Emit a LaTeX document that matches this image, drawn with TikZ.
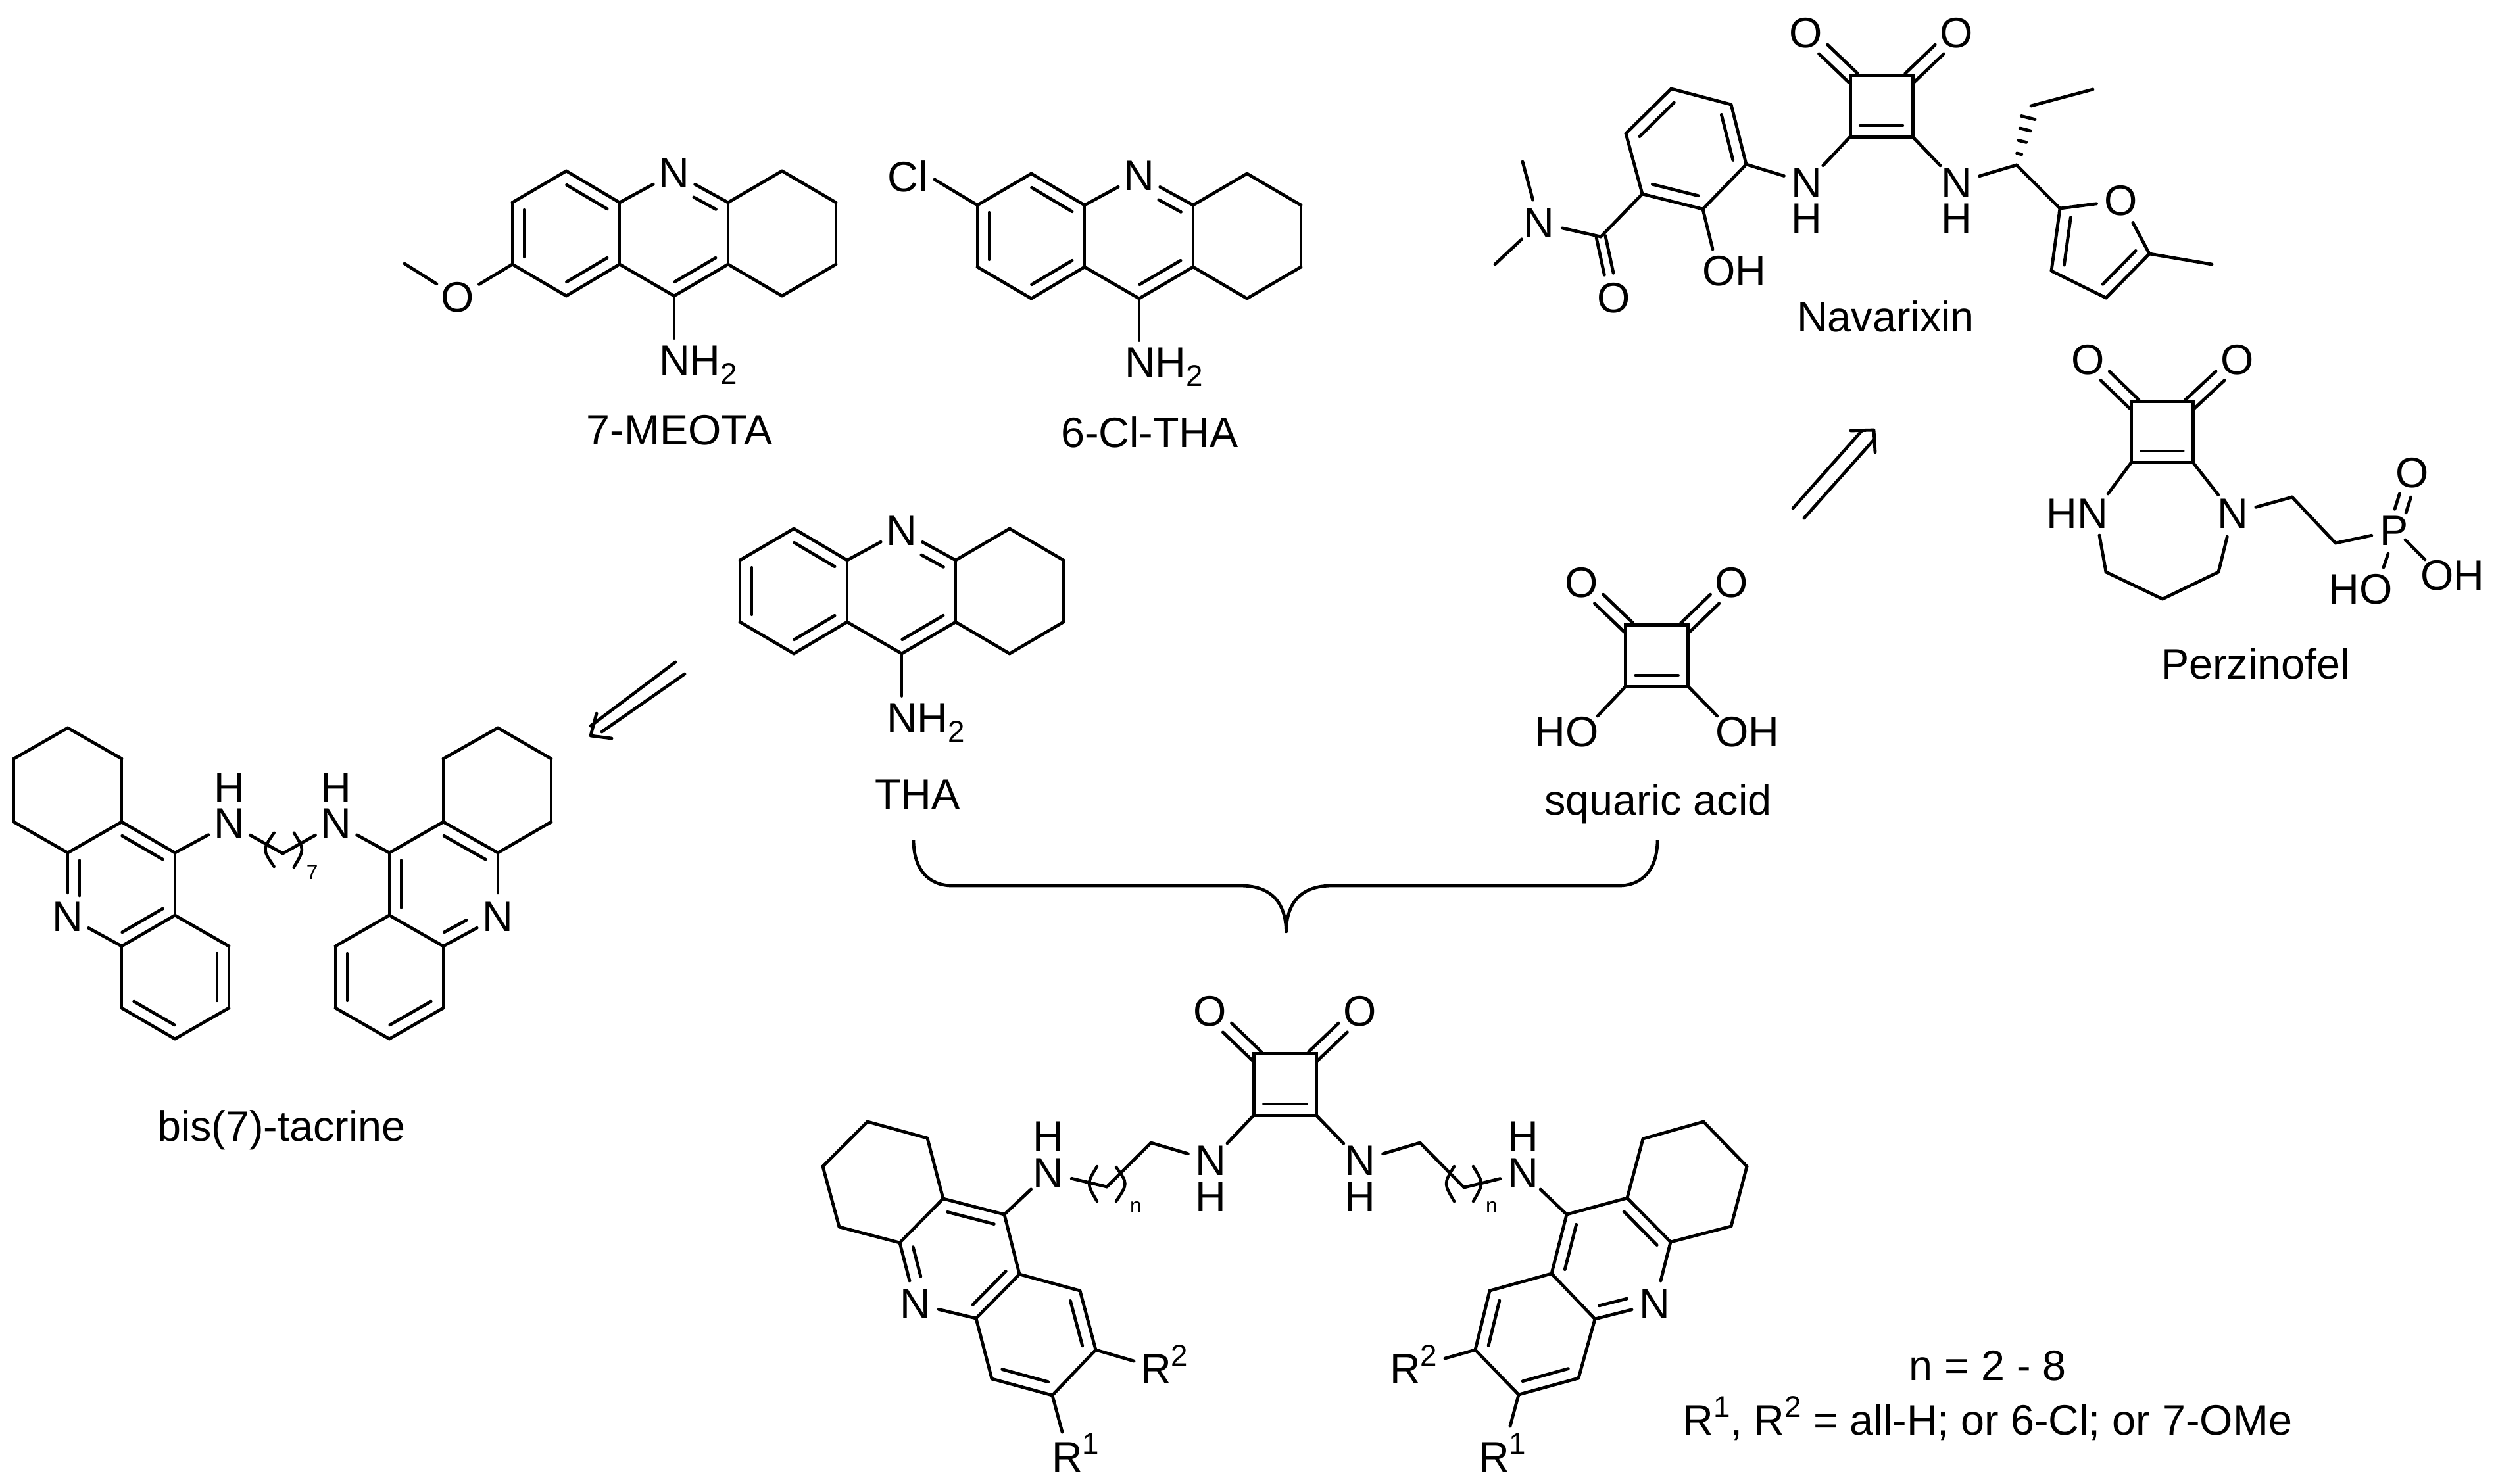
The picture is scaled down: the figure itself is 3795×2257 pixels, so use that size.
\documentclass[tikz,border=0pt]{standalone}
\usepackage{fontspec}
\setmainfont{Liberation Sans}
\usetikzlibrary{calc}
\newcommand{\subt}[1]{\raisebox{-.14cm}{\fontsize{13pt}{13pt}\selectfont #1}}
\newcommand{\supt}[1]{\raisebox{.27cm}{\fontsize{13pt}{13pt}\selectfont #1}}
\tikzset{
  bond/.style={line width=.048cm,line cap=round,line join=round,black},
  fine/.style={line width=.045cm,line cap=round,black},
  sq/.style={line width=.05cm,line cap=butt,line join=miter,black},
  lab/.style={inner sep=0pt,outer sep=0pt,font=\fontsize{18.4pt}{20pt}\selectfont,text=black},
  atom/.style={lab,circle,outer sep=.04cm},
  tiny/.style={lab,font=\fontsize{9pt}{10pt}\selectfont},
}
% simple bond
\newcommand{\bd}[2]{\draw[bond] (#1) -- (#2);}
% double bond a->b running clockwise round its ring; inner line shortened by fractions
\newcommand{\ddf}[4]{\draw[bond] (#1) -- (#2);
  \draw[bond] ($(#1)!#3!(#2)!.18cm!-90:(#2)$) -- ($(#2)!#4!(#1)!.18cm!90:(#1)$);}
\newcommand{\dd}[2]{\ddf{#1}{#2}{.12}{.12}}
% symmetric double bond: a, b, half separation, cut at a, cut at b
\newcommand{\cdb}[5]{\draw[bond] ($(#1)!#4!(#2)!#3!90:(#2)$) -- ($(#2)!#5!(#1)!#3!-90:(#1)$);
  \draw[bond] ($(#1)!#4!(#2)!#3!-90:(#2)$) -- ($(#2)!#5!(#1)!#3!90:(#1)$);}
% four-membered ring: prefix, left, right, top, bottom
\newcommand{\sqring}[5]{%
  \coordinate (#1tl) at (#2,#4); \coordinate (#1tr) at (#3,#4);
  \coordinate (#1br) at (#3,#5); \coordinate (#1bl) at (#2,#5);
  \draw[sq] (#1tl) -- (#1tr) -- (#1br) -- (#1bl) -- cycle;
  \draw[bond] ($(#1br)!.16!(#1bl)!.17cm!-90:(#1bl)$) -- ($(#1bl)!.16!(#1br)!.17cm!90:(#1br)$);}
% tetrahydroacridine skeleton with upright layout
\newcommand{\tacr}[3]{%
  \begin{scope}[shift={(#2,#3)}]
    \foreach \n/\xx/\yy in {a/861/260,b/942/308,c/942/402,d/861/450,e/779/402,f/779/308,g/1107/308,h/1107/402,i/1025/450,j/1189/260,k/1271/308,l/1271/402,m/1189/450}
      {\coordinate (#1\n) at (\xx,\yy);}
    \node[atom] (#1N) at (1025,263) {N};
  \end{scope}
  \dd{#1a}{#1b}\bd{#1b}{#1c}\dd{#1c}{#1d}\bd{#1d}{#1e}\dd{#1e}{#1f}\bd{#1f}{#1a}
  \bd{#1b}{#1N}\ddf{#1N}{#1g}{.47}{.12}\bd{#1g}{#1h}\dd{#1h}{#1i}\bd{#1i}{#1c}
  \bd{#1g}{#1j}\bd{#1j}{#1k}\bd{#1k}{#1l}\bd{#1l}{#1m}\bd{#1m}{#1h}}
\begin{document}
\begin{tikzpicture}[x=.01cm,y=-.01cm]
\path[fill=white,use as bounding box] (0,0) rectangle (3795,2257);

% ---------- 7-MEOTA
\tacr{m}{0}{0}
\node[atom] (mO) at (696,452) {O};
\coordinate (mMe) at (615,401);
\bd{me}{mO}\bd{mO}{mMe}
\node[lab,anchor=base west] (mNH) at (1002,570) {NH\subt{2}};
\draw[bond,shorten >=.11cm] (mi) -- (mi |- mNH.north);
\node[lab,anchor=base] (mName) at (1033,676) {7-MEOTA};

% ---------- 6-Cl-THA
\tacr{c}{707}{4}
\node[lab,anchor=base] (cCl) at (1380,291) {Cl};
\coordinate (cClb) at (1421,273);
\bd{cf}{cClb}
\node[lab,anchor=base west] (cNH) at (1710,573) {NH\subt{2}};
\draw[bond,shorten >=.11cm] (ci) -- (ci |- cNH.north);
\node[lab,anchor=base] (cName) at (1748,680) {6-Cl-THA};

% ---------- THA
\tacr{t}{346}{544}
\node[lab,anchor=base west] (tNH) at (1348,1114) {NH\subt{2}};
\draw[bond,shorten >=.11cm] (ti) -- (ti |- tNH.north);
\node[lab,anchor=base] (tName) at (1395,1230) {THA};

% ---------- arrow to bis(7)-tacrine
\foreach \n/\xx/\yy in {p1/1027/1007,p2/898/1104,p3/1041/1025,p4/915/1113,p5/907/1085,p6/898/1119,p7/930/1123}
  {\coordinate (\n) at (\xx,\yy);}
\bd{p1}{p2}\bd{p3}{p4}
\draw[bond] (p5) -- (p6) -- (p7);

% ---------- bis(7)-tacrine, left half
\foreach \n/\xx/\yy in {la/103/1107,lb/185/1154,lc/185/1250,ld/103/1297,le/21/1250,lf/21/1154,lg/266/1297,lh/266/1392,li/185/1439,lj/348/1439,lk/348/1533,ll/266/1580,lm/185/1533}
  {\coordinate (\n) at (\xx,\yy);}
\node[atom] (lN) at (103,1394) {N};
\bd{la}{lb}\bd{lb}{lc}\bd{lc}{ld}\bd{ld}{le}\bd{le}{lf}\bd{lf}{la}
\dd{lc}{lg}\bd{lg}{lh}\dd{lh}{li}\bd{li}{lN}\ddf{lN}{ld}{.33}{.12}
\dd{lj}{lk}\bd{lk}{ll}\dd{ll}{lm}\bd{lm}{li}\bd{lh}{lj}
% right half
\foreach \n/\xx/\yy in {ra/757/1107,rb/838/1154,rc/838/1250,rd/757/1297,re/674/1250,rf/674/1154,rg/592/1297,rh/592/1392,ri/674/1439,rj/510/1439,rk/510/1533,rl/592/1580,rm/674/1533}
  {\coordinate (\n) at (\xx,\yy);}
\node[atom] (rN) at (757,1394) {N};
\bd{ra}{rb}\bd{rb}{rc}\bd{rc}{rd}\bd{re}{rf}\bd{rf}{ra}
\dd{re}{rd}\bd{rg}{re}\dd{rh}{rg}\bd{rd}{rN}\ddf{rN}{ri}{.47}{.12}\bd{ri}{rh}
\bd{rh}{rj}\dd{rk}{rj}\bd{rk}{rl}\dd{rm}{rl}\bd{rm}{ri}
% linker
\node[atom] (bN1) at (348.7,1252.5) {N};
\node[lab] (bH1) at (348.7,1198.5) {H};
\node[atom] (bN2) at (511,1252.5) {N};
\node[lab] (bH2) at (511,1198.5) {H};
\coordinate (bm) at (430,1298);
\bd{lg}{bN1}\bd{bN1}{bm}\bd{bm}{bN2}\bd{bN2}{rg}
\coordinate (bp1) at (416.7,1266.7); \coordinate (bp2) at (399,1292); \coordinate (bp3) at (416.7,1318);
\coordinate (bq1) at (447,1266.7); \coordinate (bq2) at (463,1292); \coordinate (bq3) at (446.7,1319);
\draw[fine] (bp1) .. controls (bp2) .. (bp3);
\draw[fine] (bq1) .. controls (bq2) .. (bq3);
\node[tiny,anchor=base] (b7) at (474.7,1337) {7};
\node[lab,anchor=base] (bName) at (428,1735) {bis(7)-tacrine};

% ---------- squaric acid
\sqring{s}{2471.7}{2566.7}{950}{1044}
\node[atom] (sO1) at (2405,886) {O};
\node[atom] (sO2) at (2633,886) {O};
\cdb{stl}{sO1}{.095cm}{-.07}{.39}
\cdb{str}{sO2}{.095cm}{-.07}{.39}
\node[lab,anchor=base east] (sHO) at (2431,1135) {HO};
\node[lab,anchor=base west] (sOH) at (2608,1135) {OH};
\coordinate (sb1) at (2429,1089); \coordinate (sb2) at (2611,1089);
\bd{sbl}{sb1}\bd{sbr}{sb2}
\node[lab,anchor=base] (sName) at (2521,1239) {squaric acid};

% ---------- brace
\coordinate (br1) at (1389,1278); \coordinate (br2) at (1448,1347);
\coordinate (br3) at (1886,1347); \coordinate (br4) at (1955.5,1417);
\coordinate (br5) at (2025,1347); \coordinate (br6) at (2461,1347);
\coordinate (br7) at (2520,1278);
\draw[bond,line cap=butt] (br1) .. controls (1389,1320) and (1410,1347) .. (br2) -- (br3)
  .. controls (1930,1347) and (1955,1370) .. (br4)
  .. controls (1956,1370) and (1981,1347) .. (br5) -- (br6)
  .. controls (2499,1347) and (2520,1320) .. (br7);

% ---------- arrow to Navarixin
\foreach \n/\xx/\yy in {q1/2726/773,q2/2830/656,q3/2743/788,q4/2848/670,q5/2814/655,q6/2849/654,q7/2851/688}
  {\coordinate (\n) at (\xx,\yy);}
\bd{q1}{q2}\bd{q3}{q4}
\draw[bond] (q5) -- (q6) -- (q7);

% ---------- Navarixin
\sqring{n}{2813}{2908}{114}{208}
\node[atom] (nO1) at (2746,50) {O};
\node[atom] (nO2) at (2975,50) {O};
\cdb{ntl}{nO1}{.095cm}{-.07}{.39}
\cdb{ntr}{nO2}{.095cm}{-.07}{.39}
\node[atom] (nN1) at (2747,278) {N};
\node[lab] (nH1) at (2747,332.7) {H};
\node[atom] (nN2) at (2975,278) {N};
\node[lab] (nH2) at (2975,332.7) {H};
\bd{nbl}{nN1}\bd{nbr}{nN2}
\foreach \n/\xx/\yy in {a1/2541/135,a2/2632/159,a3/2655/250,a4/2589/318,a5/2497/295,a6/2472/203,ac/2434/360,am1/2315/246,am2/2273/402,ast/3066/251,ae/3088/161,ae2/3182/136,f1/3132/317,f3/3268/386,f4/3202/453,f5/3119/412,fm/3363/402}
  {\coordinate (\n) at (\xx,\yy);}
\dd{a6}{a1}\bd{a1}{a2}\dd{a2}{a3}\bd{a3}{a4}\dd{a4}{a5}\bd{a5}{a6}
\bd{a3}{nN1}\bd{a5}{ac}
\node[atom] (aO) at (2454,453) {O};
\cdb{ac}{aO}{.07cm}{0}{.39}
\node[atom] (aN) at (2340,339) {N};
\bd{ac}{aN}\bd{aN}{am1}\bd{aN}{am2}
\node[lab,anchor=base west] (aOH) at (2588,434) {OH};
\coordinate (aOb) at (2604,379);
\bd{a4}{aOb}
\bd{nN2}{ast}\bd{ast}{f1}
\foreach \t/\w in {.19/.037cm,.4/.06cm,.6/.083cm,.8/.107cm}
  {\draw[bond] ($(ast)!\t!(ae)!\w!90:(ae)$) -- ($(ast)!\t!(ae)!\w!-90:(ae)$);}
\bd{ae}{ae2}
\node[atom] (fO) at (3225,305) {O};
\bd{f1}{fO}\bd{fO}{f3}\dd{f3}{f4}\bd{f4}{f5}\dd{f5}{f1}\bd{f3}{fm}
\node[lab,anchor=base] (nName) at (2867,504) {Navarixin};

% ---------- Perzinofel
\sqring{z}{3240.7}{3334}{610.5}{703}
\node[atom] (zO1) at (3175,547) {O};
\node[atom] (zO2) at (3402,547) {O};
\cdb{ztl}{zO1}{.095cm}{-.07}{.39}
\cdb{ztr}{zO2}{.095cm}{-.07}{.39}
\node[lab,anchor=base east] (zHN) at (3205,803) {HN};
\node[atom] (zN) at (3395,781) {N};
\foreach \n/\xx/\yy in {zb1/3205/751,zb2/3192/814,zc1/3202/870,zc2/3288/911,zc3/3373/870,zc4/3485/756,zc5/3551/826,zb3/3687/851,zb4/3624/863,zb5/3657/821,zb6/3631/842}
  {\coordinate (\n) at (\xx,\yy);}
\bd{zbl}{zb1}\bd{zbr}{zN}
\bd{zb2}{zc1}\bd{zc1}{zc2}\bd{zc2}{zc3}\bd{zc3}{zN}
\bd{zN}{zc4}\bd{zc4}{zc5}
\node[atom] (zP) at (3640,807) {P};
\bd{zc5}{zP}
\node[atom] (zOd) at (3668,719) {O};
\cdb{zP}{zOd}{.09cm}{.34}{.39}
\bd{zb5}{zb3}\bd{zb6}{zb4}
\node[lab,anchor=base west] (zOH) at (3680,897) {OH};
\node[lab,anchor=base east] (zHO) at (3638,918) {HO};
\node[lab,anchor=base] (zName) at (3429,1032) {Perzinofel};

% ---------- bottom compound, squarate core
\sqring{u}{1906.5}{2001}{1602}{1696}
\node[atom] (uO1) at (1840,1538) {O};
\node[atom] (uO2) at (2068,1538) {O};
\cdb{utl}{uO1}{.095cm}{-.07}{.39}
\cdb{utr}{uO2}{.095cm}{-.07}{.39}
\node[atom] (uN1) at (1841,1765) {N};
\node[lab] (uH1) at (1841,1820) {H};
\node[atom] (uN2) at (2068,1765) {N};
\node[lab] (uH2) at (2068,1820) {H};
\bd{ubl}{uN1}\bd{ubr}{uN2}
% left linker
\coordinate (v1) at (1750,1738); \coordinate (v2) at (1683,1805);
\node[atom] (vN) at (1594,1784) {N};
\node[lab] (vH) at (1594,1728) {H};
\bd{uN1}{v1}\bd{v1}{v2}\bd{v2}{vN}
\coordinate (vp1) at (1668,1774); \coordinate (vp2) at (1652,1800); \coordinate (vp3) at (1668,1827);
\coordinate (vq1) at (1697,1775); \coordinate (vq2) at (1715,1800); \coordinate (vq3) at (1697,1827);
\draw[fine] (vp1) .. controls (vp2) .. (vp3);
\draw[fine] (vq1) .. controls (vq2) .. (vq3);
\node[tiny,anchor=base] (vn) at (1727,1844) {n};
% left tricycle
\foreach \n/\xx/\yy in {v3/1319/1706,v4/1410/1731,v5/1434/1823,v6/1368/1890,v7/1276/1866,v8/1251/1774,v9/1527/1847,v10/1550/1938,v11/1484/2005,v12/1642/1963,v13/1666/2053,v14/1600/2122,v15/1508/2097,vb1/1724/2070,vb2/1615/2178}
  {\coordinate (\n) at (\xx,\yy);}
\node[atom] (vNr) at (1392,1983) {N};
\bd{v3}{v4}\bd{v4}{v5}\bd{v5}{v6}\bd{v6}{v7}\bd{v7}{v8}\bd{v8}{v3}
\dd{v5}{v9}\bd{v9}{v10}\dd{v10}{v11}\bd{v11}{vNr}\ddf{vNr}{v6}{.4}{.12}
\bd{v9}{vN}
\dd{v12}{v13}\bd{v13}{v14}\dd{v14}{v15}\bd{v15}{v11}\bd{v10}{v12}
\bd{v13}{vb1}\bd{v14}{vb2}
\node[lab,anchor=base west] (vR2) at (1734,2104) {R\supt{2}};
\node[lab,anchor=base west] (vR1) at (1599,2238) {R\supt{1}};
% right linker
\coordinate (w1) at (2159,1738); \coordinate (w2) at (2226,1806);
\node[atom] (wN) at (2316,1784) {N};
\node[lab] (wH) at (2316,1728) {H};
\bd{uN2}{w1}\bd{w1}{w2}\bd{w2}{wN}
\coordinate (wp1) at (2211,1774); \coordinate (wp2) at (2195,1800); \coordinate (wp3) at (2211,1827);
\coordinate (wq1) at (2240,1774); \coordinate (wq2) at (2256,1800); \coordinate (wq3) at (2240,1827);
\draw[fine] (wp1) .. controls (wp2) .. (wp3);
\draw[fine] (wq1) .. controls (wq2) .. (wq3);
\node[tiny,anchor=base] (wn) at (2268,1844) {n};
% right tricycle
\foreach \n/\xx/\yy in {w3/2590/1706,w4/2498/1732,w5/2474/1822,w6/2540/1889,w7/2632/1865,w8/2656/1774,w9/2382/1847,w10/2359/1937,w11/2425/2006,w12/2265/1963,w13/2243/2053,w14/2309/2121,w15/2400/2096,wb1/2197/2066,wb2/2296/2169}
  {\coordinate (\n) at (\xx,\yy);}
\node[atom] (wNr) at (2516,1983) {N};
\bd{w3}{w4}\bd{w4}{w5}\dd{w5}{w6}\bd{w6}{w7}\bd{w7}{w8}\bd{w8}{w3}
\bd{w9}{w5}\dd{w10}{w9}\bd{w6}{wNr}\ddf{wNr}{w11}{.42}{.12}\bd{w11}{w10}
\bd{w9}{wN}
\bd{w10}{w12}\dd{w13}{w12}\bd{w13}{w14}\dd{w15}{w14}\bd{w15}{w11}
\bd{w13}{wb1}\bd{w14}{wb2}
\node[lab,anchor=base west] (wR2) at (2113,2104) {R\supt{2}};
\node[lab,anchor=base west] (wR1) at (2248,2238) {R\supt{1}};
% caption
\node[lab,anchor=base] (cap1) at (3022,2099) {n = 2 - 8};
\node[lab,anchor=base] (cap2) at (3022,2182) {R\supt{1}, R\supt{2} = all-H; or 6-Cl; or 7-OMe};
\end{tikzpicture}
\end{document}
